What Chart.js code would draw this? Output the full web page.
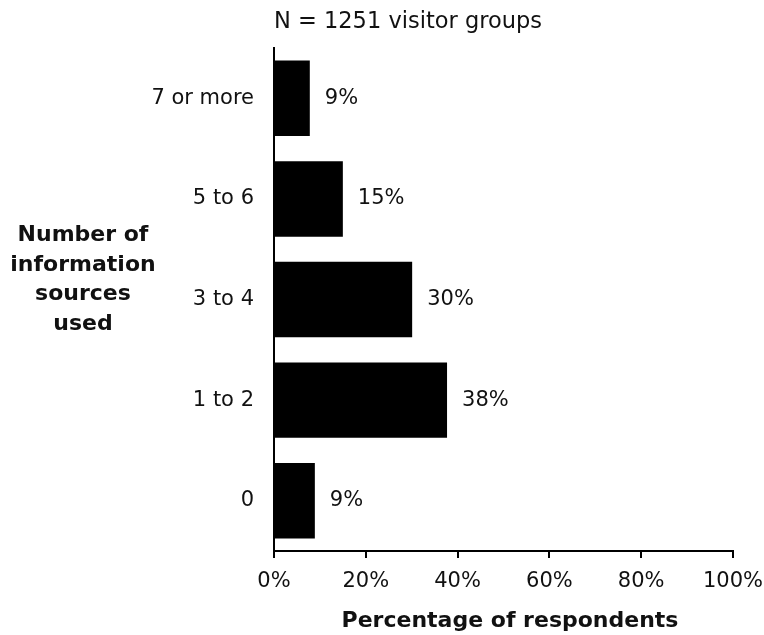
<!DOCTYPE html>
<html>
<head>
<meta charset="utf-8">
<script src="https://cdn.jsdelivr.net/npm/chart.js@4/dist/chart.umd.min.js"></script>
<style>
  html, body { margin: 0; padding: 0; background: #fff; }
  #wrap { width: 764px; height: 635px; position: relative; }
</style>
</head>
<body>
<div id="wrap"><canvas id="c" width="764" height="635"></canvas></div>
<script>
// ---- data ----
const categories = ["7 or more", "5 to 6", "3 to 4", "1 to 2", "0"];
const percentValues = [7.8, 15.0, 30.1, 37.7, 8.9];
const valueLabels = ["9%", "15%", "30%", "38%", "9%"];
const xTickValues = [0, 20, 40, 60, 80, 100];
const topCaption = "N = 1251 visitor groups";
const xTitle = "Percentage of respondents";
const yTitleLines = ["Number of", "information", "sources", "used"];

const FONT = "'DejaVu Sans', sans-serif";
const TXT = "#111";

const textPlugin = {
  id: "textPlugin",
  afterDraw(chart) {
    const ctx = chart.ctx;
    ctx.save();
    // value labels
    ctx.fillStyle = TXT;
    ctx.font = "21px " + FONT;
    ctx.textAlign = "left";
    ctx.textBaseline = "middle";
    const meta = chart.getDatasetMeta(0);
    meta.data.forEach((bar, i) => {
      ctx.fillText(valueLabels[i], bar.x + 15, bar.y);
    });
    // top caption
    ctx.font = "22.5px " + FONT;
    ctx.textBaseline = "alphabetic";
    ctx.fillText(topCaption, 274, 28);
    // x title
    ctx.font = "bold 22px " + FONT;
    ctx.textAlign = "center";
    ctx.fillText(xTitle, 510, 627);
    // y title
    const lh = 29.5;
    const startY = 241;
    yTitleLines.forEach((t, i) => {
      ctx.fillText(t, 83, startY + i * lh);
    });
    ctx.restore();
  }
};

new Chart(document.getElementById("c"), {
  type: "bar",
  data: {
    labels: categories,
    datasets: [{
      data: percentValues,
      backgroundColor: "#000",
      borderWidth: 0,
      barPercentage: 0.75,
      categoryPercentage: 1.0
    }]
  },
  options: {
    indexAxis: "y",
    responsive: false,
    animation: false,
    devicePixelRatio: 1,
    layout: { padding: { top: 48, right: 31, left: 0, bottom: 0 } },
    plugins: { legend: { display: false }, tooltip: { enabled: false }, title: { display: false } },
    scales: {
      x: {
        min: 0, max: 100,
        afterBuildTicks(scale) { scale.ticks = xTickValues.map(v => ({ value: v })); },
        afterFit(scale) { scale.height = 84; scale.paddingRight = 0; scale.paddingLeft = 0; },
        ticks: {
          color: TXT,
          font: { family: FONT, size: 21 },
          padding: 11,
          maxRotation: 0,
          callback: (v) => v + "%"
        },
        grid: {
          display: true,
          drawOnChartArea: false,
          drawTicks: true,
          tickLength: 7,
          color: "#000",
          lineWidth: 2
        },
        border: { display: true, color: "#000", width: 2 }
      },
      y: {
        afterFit(scale) { scale.width = 274; scale.paddingTop = 0; scale.paddingBottom = 0; },
        ticks: {
          color: TXT,
          font: { family: FONT, size: 21 },
          padding: 20
        },
        grid: { display: true, drawOnChartArea: false, drawTicks: false, color: "rgba(0,0,0,0)" },
        border: { display: true, color: "#000", width: 2 }
      }
    }
  },
  plugins: [textPlugin]
});
</script>
</body>
</html>
